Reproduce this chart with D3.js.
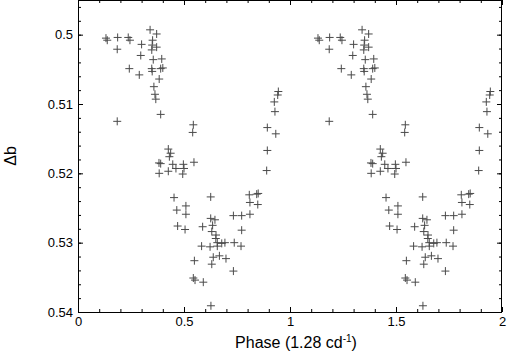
<!DOCTYPE html>
<html>
<head>
<meta charset="utf-8">
<script src="https://cdn.jsdelivr.net/npm/d3@7"></script>
<style>
  body { margin: 0; background: #fff; }
  svg { display: block; font-family: "Liberation Sans", Arial, sans-serif; }
</style>
</head>
<body>
<svg id="chart" width="508" height="360"></svg>
<script>
// folded light curve, phase in [0,1), plotted twice
const phase = [0.132, 0.138, 0.187, 0.237, 0.245, 0.185, 0.300, 0.296, 0.242, 0.289,
    0.340, 0.371, 0.352, 0.350, 0.371, 0.348, 0.355, 0.395, 0.348, 0.350,
    0.390, 0.400, 0.383, 0.358, 0.363, 0.367, 0.390, 0.185, 0.544, 0.541,
    0.426, 0.437, 0.431, 0.382, 0.390, 0.447, 0.462, 0.497, 0.500, 0.547,
    0.383, 0.426, 0.494, 0.453, 0.466, 0.509, 0.509, 0.470, 0.505, 0.626,
    0.626, 0.646, 0.588, 0.635, 0.631, 0.651, 0.650, 0.657, 0.678, 0.693,
    0.737, 0.772, 0.769, 0.583, 0.623, 0.657, 0.549, 0.638, 0.667, 0.698,
    0.631, 0.733, 0.544, 0.552, 0.591, 0.627, 0.733, 0.772, 0.811, 0.808,
    0.843, 0.850, 0.811, 0.848, 0.945, 0.942, 0.926, 0.929, 0.893, 0.933,
    0.893, 0.890];
const deltaB = [0.5005, 0.5008, 0.5004, 0.5004, 0.5008, 0.5021, 0.5014, 0.5030, 0.5049, 0.5058,
    0.4993, 0.4999, 0.5008, 0.5015, 0.5018, 0.5022, 0.5036, 0.5035, 0.5049, 0.5053,
    0.5049, 0.5048, 0.5064, 0.5075, 0.5086, 0.5093, 0.5115, 0.5125, 0.5130, 0.5141,
    0.5165, 0.5171, 0.5176, 0.5185, 0.5186, 0.5187, 0.5193, 0.5187, 0.5193, 0.5184,
    0.5200, 0.5197, 0.5201, 0.5235, 0.5253, 0.5247, 0.5259, 0.5276, 0.5281, 0.5234,
    0.5265, 0.5267, 0.5277, 0.5275, 0.5284, 0.5289, 0.5294, 0.5300, 0.5301, 0.5300,
    0.5300, 0.5282, 0.5305, 0.5305, 0.5306, 0.5305, 0.5326, 0.5321, 0.5319, 0.5323,
    0.5331, 0.5341, 0.5351, 0.5354, 0.5357, 0.5391, 0.5261, 0.5261, 0.5259, 0.5231,
    0.5230, 0.5229, 0.5242, 0.5245, 0.5082, 0.5087, 0.5097, 0.5111, 0.5134, 0.5143,
    0.5167, 0.5196];

const xTicks = [0, 0.5, 1, 1.5, 2];
const yTicks = [0.50, 0.51, 0.52, 0.53, 0.54];

const margin = {top: 0, right: 6, bottom: 48, left: 78};
const svg = d3.select("#chart");
const width = +svg.attr("width") - margin.left - margin.right;
const height = +svg.attr("height") - margin.top - margin.bottom;

const g = svg.append("g")
    .attr("transform", "translate(" + margin.left + "," + margin.top + ")");

const x = d3.scaleLinear().domain([0, 2]).range([0, width]);
const y = d3.scaleLinear().domain([0.54, 0.495]).range([height, 0]);

let xMinor = d3.range(0, 2.0001, 0.1);
let yMinor = d3.range(0.496, 0.5401, 0.002);

// minor ticks (no labels) on all four sides
g.append("g").attr("transform", "translate(0," + height + ")")
    .call(d3.axisBottom(x).tickValues(xMinor).tickSize(-3).tickFormat(""));
g.append("g")
    .call(d3.axisTop(x).tickValues(xMinor).tickSize(-3).tickFormat(""));
g.append("g")
    .call(d3.axisLeft(y).tickValues(yMinor).tickSize(-3).tickFormat(""));
g.append("g").attr("transform", "translate(" + width + ",0)")
    .call(d3.axisRight(y).tickValues(yMinor).tickSize(-3).tickFormat(""));

// major ticks
g.append("g").attr("class", "xAxis").attr("transform", "translate(0," + height + ")")
    .call(d3.axisBottom(x).tickValues(xTicks).tickSize(-5).tickPadding(5)
        .tickFormat(d3.format("")));
g.append("g")
    .call(d3.axisTop(x).tickValues(xTicks).tickSize(-5).tickFormat(""));
g.append("g").attr("class", "yAxis")
    .call(d3.axisLeft(y).tickValues(yTicks).tickSize(-5).tickPadding(5)
        .tickFormat(d3.format("")));
g.append("g").attr("transform", "translate(" + width + ",0)")
    .call(d3.axisRight(y).tickValues(yTicks).tickSize(-5).tickFormat(""));

svg.selectAll(".domain").remove();
svg.selectAll(".tick line").attr("stroke", "#000");
svg.selectAll(".tick text").attr("font-size", 13)
    .attr("font-family", "Liberation Sans, Arial, sans-serif").attr("fill", "#000");

g.append("rect")
    .attr("x", 0.5).attr("y", 0.5)
    .attr("width", width - 1).attr("height", height)
    .attr("fill", "none").attr("stroke", "#000");

// plus markers, each point drawn at phase and phase + 1
let pts = [];
for (let i = 0; i < phase.length; i++) {
    pts.push({p: phase[i], b: deltaB[i]});
    pts.push({p: phase[i] + 1, b: deltaB[i]});
}
const s = 4;
g.append("g").selectAll("path")
    .data(pts)
    .enter().append("path")
    .attr("d", function (d) {
        let cx = x(d.p), cy = y(d.b);
        return "M" + (cx - s) + "," + cy + "H" + (cx + s) +
            "M" + cx + "," + (cy - s) + "V" + (cy + s);
    })
    .attr("fill", "none")
    .attr("stroke", "#4a4a4a")
    .attr("stroke-width", 1);

// axis titles
svg.append("text")
    .attr("x", margin.left + width / 2 + 6)
    .attr("y", 348)
    .attr("text-anchor", "middle")
    .attr("font-size", 16)
    .html('Phase (1.28 cd<tspan dy="-6" font-size="10">-1</tspan><tspan dy="6">)</tspan>');

svg.append("text")
    .attr("transform", "translate(16," + (height / 2) + ") rotate(-90)")
    .attr("text-anchor", "middle")
    .attr("font-size", 16)
    .text("Δb");
</script>
</body>
</html>
